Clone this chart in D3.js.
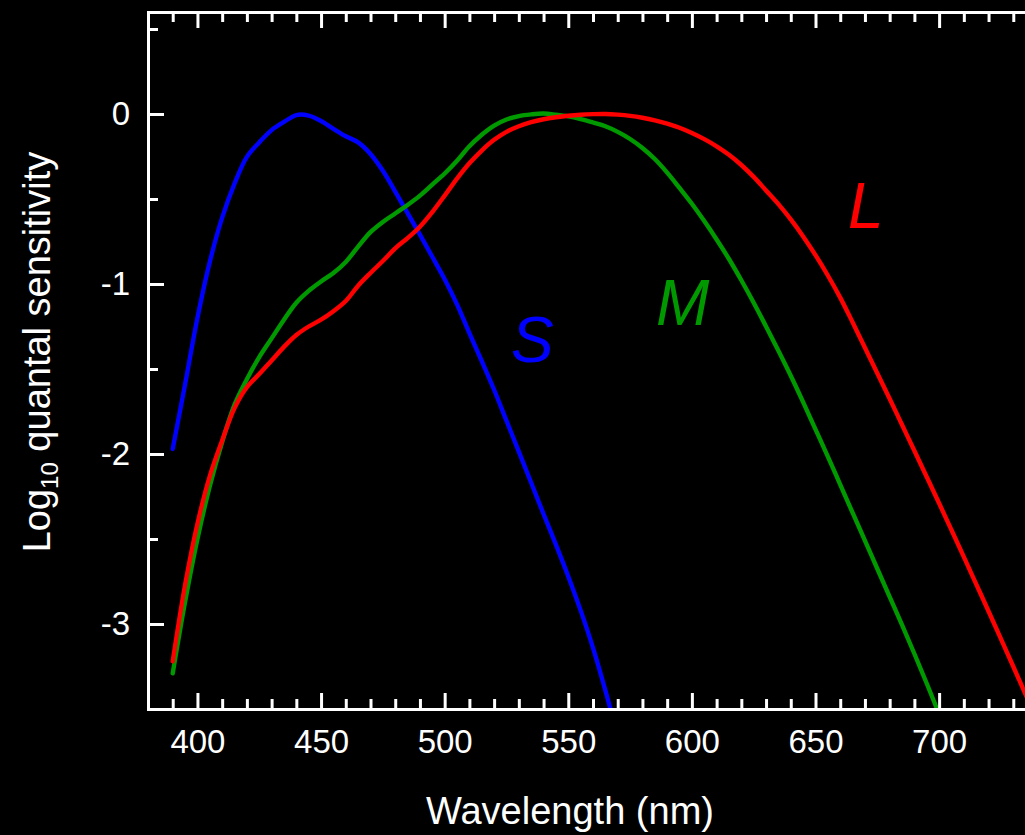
<!DOCTYPE html>
<html>
<head>
<meta charset="utf-8">
<script src="https://cdn.jsdelivr.net/npm/d3@7"></script>
<style>
  html, body { margin: 0; padding: 0; background: #000; }
  svg { display: block; }
</style>
</head>
<body>
<svg id="chart" width="1025" height="835"></svg>
<script>
// Cone spectral sensitivities (log10 quantal), sampled every 5 nm
const wavelengths = [
  390, 395, 400, 405, 410, 415, 420, 425, 430, 435,
  440, 445, 450, 455, 460, 465, 470, 475, 480, 485,
  490, 495, 500, 505, 510, 515, 520, 525, 530, 535,
  540, 545, 550, 555, 560, 565, 570, 575, 580, 585,
  590, 595, 600, 605, 610, 615, 620, 625, 630, 635,
  640, 645, 650, 655, 660, 665, 670, 675, 680, 685,
  690, 695, 700, 705, 710, 715, 720, 725, 730, 735,
  740
];

const sCone = [
  -1.97, -1.59, -1.20, -0.87, -0.61, -0.41, -0.252, -0.167, -0.095, -0.047,
  -0.006, -0.009, -0.041, -0.087, -0.131, -0.167, -0.235, -0.334, -0.456, -0.583,
  -0.710, -0.840, -0.972, -1.12, -1.289, -1.453, -1.622, -1.804, -1.986, -2.169,
  -2.353, -2.533, -2.72, -2.92, -3.14, -3.39, -3.66, null, null, null,
  null, null, null, null, null, null, null, null, null, null,
  null, null, null, null, null, null, null, null, null, null,
  null, null, null, null, null, null, null, null, null, null,
  null
];

const mCone = [
  -3.29, -2.87, -2.50, -2.19, -1.93, -1.71, -1.56, -1.43, -1.32, -1.21,
  -1.11, -1.04, -0.985, -0.935, -0.87, -0.78, -0.695, -0.635, -0.585, -0.535,
  -0.48, -0.415, -0.35, -0.275, -0.19, -0.122, -0.068, -0.032, -0.012, -0.002,
  0.003, -0.004, -0.014, -0.03, -0.05, -0.072, -0.105, -0.147, -0.20, -0.265,
  -0.345, -0.435, -0.528, -0.63, -0.738, -0.853, -0.978, -1.11, -1.25, -1.393,
  -1.54, -1.695, -1.855, -2.015, -2.18, -2.345, -2.51, -2.675, -2.84, -3.005,
  -3.175, -3.35, -3.53, null, null, null, null, null, null, null,
  null
];

const lCone = [
  -3.22, -2.77, -2.41, -2.13, -1.92, -1.73, -1.607, -1.53, -1.45, -1.37,
  -1.30, -1.25, -1.21, -1.16, -1.10, -1.01, -0.935, -0.865, -0.79, -0.73,
  -0.663, -0.577, -0.48, -0.38, -0.29, -0.215, -0.152, -0.105, -0.072, -0.048,
  -0.031, -0.019, -0.01, -0.004, -0.001, 0.0, -0.004, -0.011, -0.022, -0.037,
  -0.056, -0.081, -0.112, -0.148, -0.19, -0.24, -0.30, -0.37, -0.45, -0.53,
  -0.62, -0.72, -0.83, -0.95, -1.08, -1.225, -1.375, -1.525, -1.675, -1.828,
  -1.981, -2.135, -2.29, -2.447, -2.605, -2.765, -2.925, -3.087, -3.25, -3.415,
  -3.58
];

const seriesNames = ["S", "M", "L"];
const seriesColors = ["#0000ff", "#009a00", "#ff0000"];

const xMajorTicks = [400, 450, 500, 550, 600, 650, 700];
const xMinorTicks = [390, 410, 420, 430, 440, 460, 470, 480, 490, 510, 520, 530, 540,
                     560, 570, 580, 590, 610, 620, 630, 640, 660, 670, 680, 690, 710, 720, 730];
const yMajorTicks = [0, -1, -2, -3];
const yMinorTicks = [0.5, -0.5, -1.5, -2.5];

const xTitle = "Wavelength (nm)";

// ---- layout ----
const svg = d3.select("#chart");
const FONT = "'Liberation Sans', Arial, sans-serif";
const plotLeft = 148, plotTop = 12, plotBottom = 709, plotRight = 1038;

const x = d3.scaleLinear().domain([380, 740]).range([plotLeft, plotRight]);
const y = d3.scaleLinear().domain([-3.5, 0.6]).range([plotBottom, plotTop]);

svg.append("rect").attr("width", 1025).attr("height", 835).attr("fill", "#000");

svg.append("defs").append("clipPath").attr("id", "plotClip")
  .append("rect")
  .attr("x", plotLeft).attr("y", plotTop)
  .attr("width", plotRight - plotLeft).attr("height", plotBottom - plotTop);

// ---- curves ----
const seriesValues = [sCone, mCone, lCone];
const line = d3.line()
  .defined(d => d[1] !== null)
  .x(d => x(d[0]))
  .y(d => y(d[1]))
  .curve(d3.curveCatmullRom.alpha(0.5));

const curves = svg.append("g").attr("clip-path", "url(#plotClip)");
seriesValues.forEach((vals, i) => {
  const pts = wavelengths.map((w, k) => [w, vals[k]]);
  curves.append("path")
    .datum(pts)
    .attr("d", line)
    .attr("fill", "none")
    .attr("stroke", seriesColors[i])
    .attr("stroke-width", 4.4)
    .attr("stroke-linejoin", "round")
    .attr("stroke-linecap", "round");
});

// ---- axes ----
function styleAxis(g) {
  g.select(".domain").attr("stroke", "#fff").attr("stroke-width", 3).attr("stroke-linecap", "square");
  g.selectAll(".tick line").attr("stroke", "#fff").attr("stroke-width", 3);
  g.selectAll("text").attr("fill", "#fff").style("font-family", FONT).style("font-size", "33px");
}

// bottom: labelled majors + minors, ticks pointing into the plot
svg.append("g").attr("transform", `translate(0,${plotBottom})`)
  .call(d3.axisBottom(x).tickValues(xMinorTicks).tickSize(-10).tickSizeOuter(0).tickFormat(""))
  .call(styleAxis);
svg.append("g").attr("transform", `translate(0,${plotBottom})`)
  .call(d3.axisBottom(x).tickValues(xMajorTicks).tickSize(-16).tickSizeOuter(0).tickPadding(21).tickFormat(d => String(d)))
  .call(styleAxis);

// top: ticks only
svg.append("g").attr("transform", `translate(0,${plotTop})`)
  .call(d3.axisTop(x).tickValues(xMinorTicks).tickSize(-10).tickSizeOuter(0).tickFormat(""))
  .call(styleAxis);
svg.append("g").attr("transform", `translate(0,${plotTop})`)
  .call(d3.axisTop(x).tickValues(xMajorTicks).tickSize(-16).tickSizeOuter(0).tickFormat(""))
  .call(styleAxis);

// left
svg.append("g").attr("transform", `translate(${plotLeft},0)`)
  .call(d3.axisLeft(y).tickValues(yMinorTicks).tickSize(-10).tickSizeOuter(0).tickFormat(""))
  .call(styleAxis);
svg.append("g").attr("transform", `translate(${plotLeft},0)`)
  .call(d3.axisLeft(y).tickValues(yMajorTicks).tickSize(-16).tickSizeOuter(0).tickPadding(18).tickFormat(d => String(d)))
  .call(styleAxis);

// ---- titles ----
svg.append("text")
  .attr("x", 570).attr("y", 824)
  .attr("text-anchor", "middle")
  .attr("fill", "#fff")
  .style("font-family", FONT).style("font-size", "38px")
  .text(xTitle);

const yTitle = svg.append("text")
  .attr("transform", "translate(50,352) rotate(-90)")
  .attr("text-anchor", "middle")
  .attr("fill", "#fff")
  .style("font-family", FONT).style("font-size", "38px");
yTitle.append("tspan").text("Log");
yTitle.append("tspan").attr("dy", 8).style("font-size", "24px").text("10");
yTitle.append("tspan").attr("dy", -8).text(" quantal sensitivity");

// ---- curve labels ----
const labelPos = [[511, 362], [656, 325], [848, 228]];
seriesNames.forEach((name, i) => {
  svg.append("text")
    .attr("x", labelPos[i][0]).attr("y", labelPos[i][1])
    .attr("fill", seriesColors[i])
    .style("font-family", FONT).style("font-size", "64px").style("font-style", "italic")
    .text(name);
});
</script>
</body>
</html>
